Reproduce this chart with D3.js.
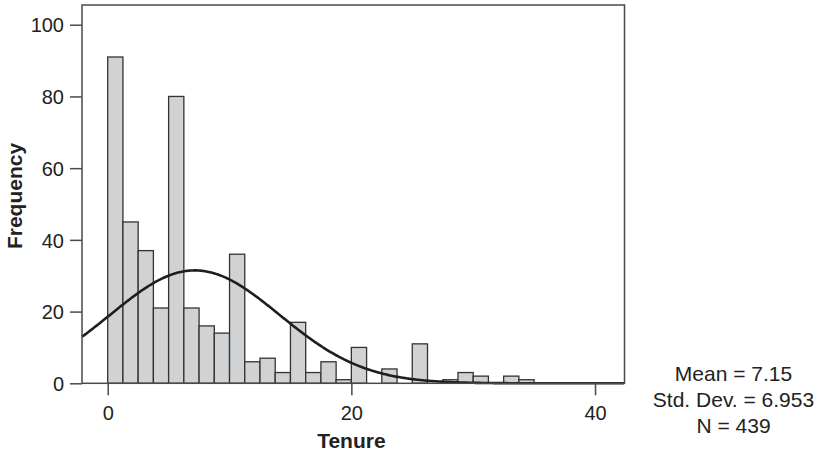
<!DOCTYPE html>
<html lang="en">
<head>
    <meta charset="UTF-8">
    <script src="https://d3js.org/d3.v7.min.js"></script>
    <style>
        body { margin: 0; background: #fff; }
        text { font-family: "Liberation Sans", Arial, sans-serif; fill: #222; }
        .tick text { font-size: 20px; }
        .axis-title { font-size: 21px; font-weight: bold; }
        .stats { font-size: 21px; text-anchor: middle; }
    </style>
</head>
<body>
    <svg id="chart" width="819" height="455"></svg>
    <script>
        // histogram of tenure, bin width 1.25 starting at 0
        const binWidth = 1.25;
        const counts = [91, 45, 37, 21, 80, 21, 16, 14, 36, 6, 7, 3, 17, 3,
                        6, 1, 10, 0, 4, 0, 11, 0, 1, 3, 2, 0, 2, 1];
        const xTicks = [0, 20, 40];
        const yTicks = [0, 20, 40, 60, 80, 100];
        const mean = 7.15, sd = 6.953, n = 439;
        const statLines = ["Mean = 7.15", "Std. Dev. = 6.953", "N = 439"];

        const svg = d3.select("#chart");
        const plotLeft = 82, plotRight = 624.5, plotTop = 5, plotBottom = 383.3;

        const x = d3.scaleLinear().domain([-2.11, 42.42]).range([plotLeft, plotRight]);
        const y = d3.scaleLinear().domain([0, 105.5]).range([plotBottom, plotTop]);

        const bins = counts.map((c, i) => ({ x0: i * binWidth, x1: (i + 1) * binWidth, count: c }));

        svg.append("g")
            .selectAll("rect")
            .data(bins.filter(d => d.count > 0))
            .join("rect")
            .attr("x", d => x(d.x0))
            .attr("y", d => y(d.count))
            .attr("width", d => x(d.x1) - x(d.x0))
            .attr("height", d => y(0) - y(d.count))
            .attr("fill", "#d1d2d4")
            .attr("stroke", "#333")
            .attr("stroke-width", 1.3);

        // normal curve scaled to counts
        const curve = d3.range(-2.11, 42.42, 0.1).map(v => [v,
            n * binWidth / (sd * Math.sqrt(2 * Math.PI)) * Math.exp(-((v - mean) ** 2) / (2 * sd * sd))]);
        svg.append("path")
            .datum(curve)
            .attr("fill", "none")
            .attr("stroke", "#1e1e1e")
            .attr("stroke-width", 2.6)
            .attr("d", d3.line().x(d => x(d[0])).y(d => y(d[1])));

        // frame
        svg.append("rect")
            .attr("x", plotLeft).attr("y", plotTop)
            .attr("width", plotRight - plotLeft).attr("height", plotBottom - plotTop)
            .attr("fill", "none")
            .attr("stroke", "#4a4a4a")
            .attr("stroke-width", 1.5);

        const xAxis = svg.append("g")
            .attr("transform", `translate(0,${plotBottom})`)
            .call(d3.axisBottom(x).tickValues(xTicks).tickSize(12).tickPadding(11));
        const yAxis = svg.append("g")
            .attr("transform", `translate(${plotLeft},0)`)
            .call(d3.axisLeft(y).tickValues(yTicks).tickSize(12).tickPadding(6));
        [xAxis, yAxis].forEach(a => {
            a.select(".domain").remove();
            a.selectAll(".tick line").attr("stroke", "#4a4a4a").attr("stroke-width", 1.5);
        });
        yAxis.selectAll(".tick text").attr("dy", "0.36em");

        svg.append("text")
            .attr("class", "axis-title")
            .attr("x", x(20))
            .attr("y", 448)
            .attr("text-anchor", "middle")
            .text("Tenure");

        svg.append("text")
            .attr("class", "axis-title")
            .attr("transform", "translate(22,196) rotate(-90)")
            .attr("text-anchor", "middle")
            .text("Frequency");

        svg.append("g")
            .selectAll("text")
            .data(statLines)
            .join("text")
            .attr("class", "stats")
            .attr("x", 733.5)
            .attr("y", (d, i) => 380.7 + i * 26)
            .text(d => d);
    </script>
</body>
</html>
